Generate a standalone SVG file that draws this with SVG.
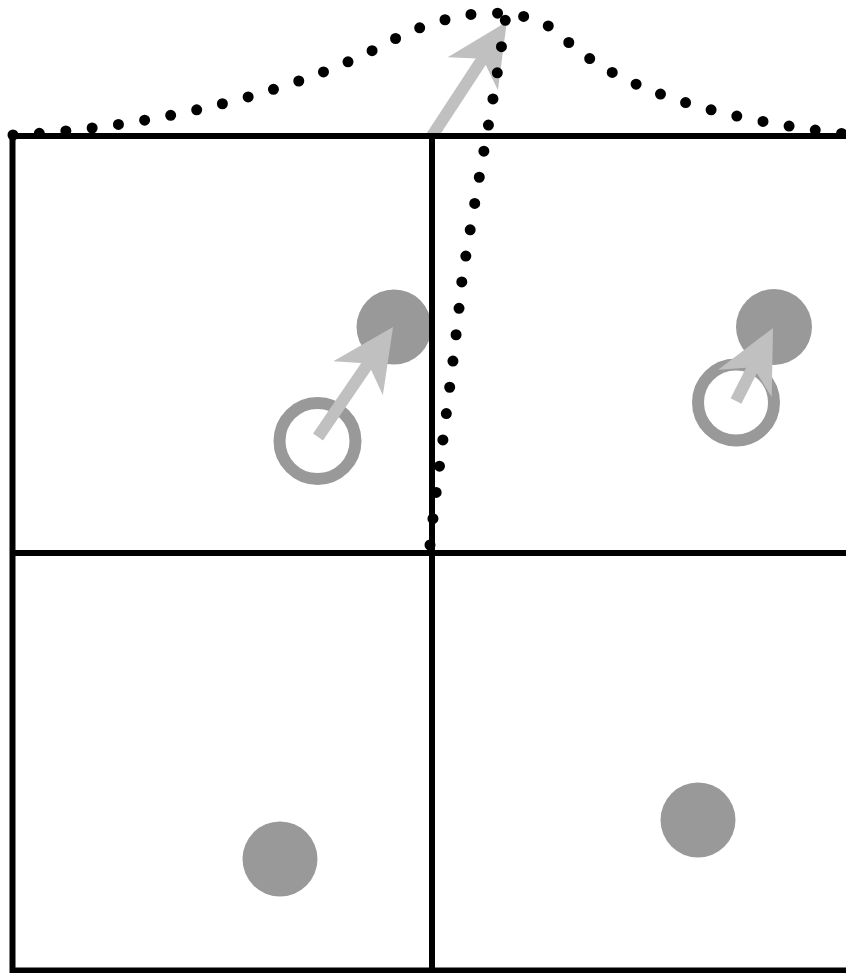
<svg xmlns="http://www.w3.org/2000/svg" width="846" height="973" viewBox="0 0 846 973">
<style>
.grid{stroke:#000;stroke-width:6;fill:none;stroke-linecap:butt}
.dot{fill:#999}
.ring{fill:none;stroke:#999;stroke-width:12}
.arrow{stroke:#c0c0c0;stroke-width:12;fill:none;marker-end:url(#head)}
.dotted{fill:none;stroke:#000;stroke-width:11;stroke-linecap:round;stroke-dasharray:0 26.5}
</style>
<defs>
<marker id="head" markerUnits="userSpaceOnUse" viewBox="-30 -35 80 70" markerWidth="80" markerHeight="70" refX="0" refY="0" orient="auto" overflow="visible">
<path d="M40 0 L-22 -30 L-4 0 L-22 30 Z" fill="#c0c0c0"/>
</marker>
</defs>
<rect width="846" height="973" fill="#fff"/>
<g id="points">
<g id="filled-tl"><circle class="dot" cx="394" cy="327" r="37.5"/></g>
<g id="ring-tl"><circle class="ring" cx="317.5" cy="441" r="38"/></g>
<g id="filled-tr"><circle class="dot" cx="774" cy="327" r="38"/></g>
<g id="ring-tr"><circle class="ring" cx="736" cy="402.5" r="38"/></g>
<g id="filled-bl"><circle class="dot" cx="280" cy="859" r="37.5"/></g>
<g id="filled-br"><circle class="dot" cx="698" cy="820" r="37.5"/></g>
</g>
<g id="connectors">
<line class="arrow" x1="432" y1="136" x2="484.9" y2="55.3"/>
<line class="arrow" x1="318" y1="437" x2="370.5" y2="360.1"/>
<line class="arrow" x1="736" y1="401" x2="754.9" y2="363.7"/>
</g>
<g id="grid">
<line class="grid" x1="10" y1="136" x2="846" y2="136"/>
<line class="grid" x1="10" y1="553" x2="846" y2="553"/>
<line class="grid" x1="10" y1="970.5" x2="846" y2="970.5"/>
<line class="grid" x1="12.5" y1="133" x2="12.5" y2="973"/>
<line class="grid" x1="432" y1="133" x2="432" y2="973"/>
</g>
<g id="curves">
<path class="dotted" d="M13 135 C150 128 300 93 400 36 C430 22 465 13 490 13 C515 13 535 17 555 30 C585 58 640 110 846 134"/>
<path class="dotted" d="M430 545 C438 470 452 380 462 280 C476 190 496 90 506 15"/>
</g>
</svg>
